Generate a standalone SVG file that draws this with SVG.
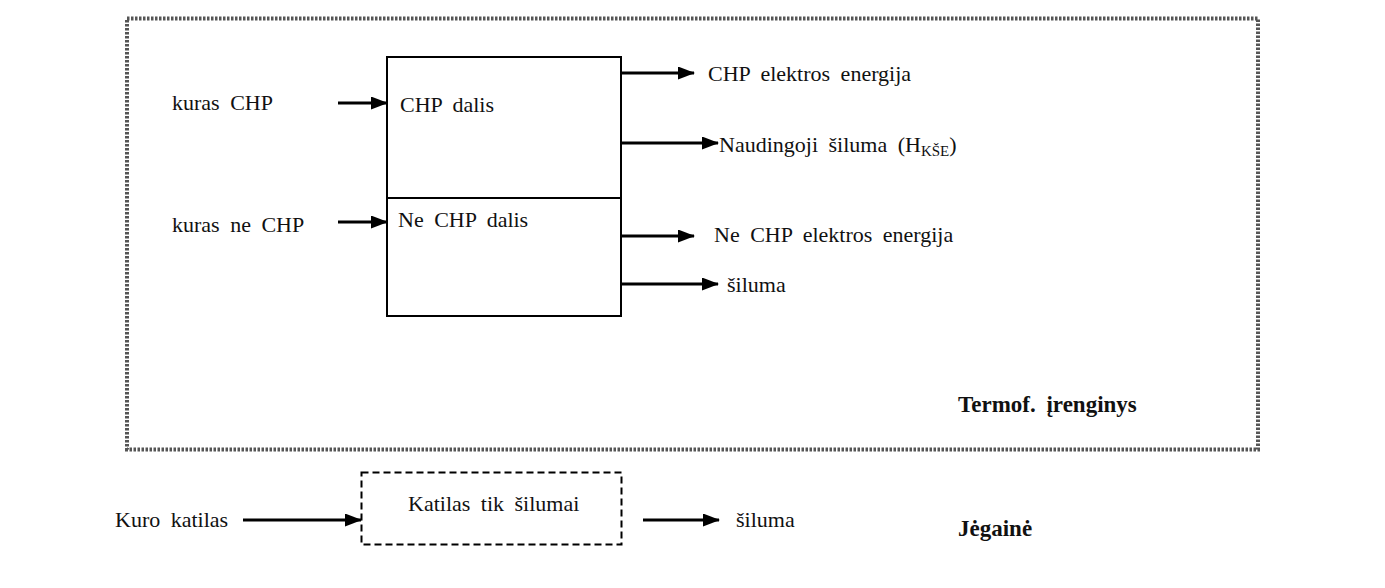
<svg xmlns="http://www.w3.org/2000/svg" width="1385" height="588" viewBox="0 0 1385 588">
<defs>
<marker id="ahb" markerWidth="17" markerHeight="13" refX="16" refY="6.5" orient="auto" markerUnits="userSpaceOnUse" viewBox="0 0 17 13"><path d="M0,0 L17,6.5 L0,13 z" fill="#000"/></marker>
</defs>
<style>
text{font-family:"Liberation Serif","Times New Roman",serif;font-size:22px;fill:#111;word-spacing:5px}
.b{font-weight:bold;font-size:23px}
.c{stroke:#000;stroke-width:3;fill:none;marker-end:url(#ahb)}
.box{fill:#fff;stroke:#000;stroke-width:2}
</style>
<rect width="1385" height="588" fill="#fff"/>
<g id="frame">
<rect x="127" y="18.5" width="1131" height="431" fill="none" stroke="#555" stroke-width="4" stroke-dasharray="2.5 1.5"/>
<text x="958" y="412" class="b">Termof. įrenginys</text>
</g>
<g id="chp-unit">
<rect class="box" x="387" y="57" width="234" height="259"/>
<line x1="387" y1="198" x2="621" y2="198" stroke="#000" stroke-width="2"/>
<text x="400" y="112">CHP dalis</text>
<text x="398" y="227">Ne CHP dalis</text>
</g>
<g id="boiler">
<rect x="361.5" y="472.5" width="260" height="72" fill="none" stroke="#000" stroke-width="2" stroke-dasharray="7 4"/>
<text x="408" y="511">Katilas tik šilumai</text>
</g>
<g id="labels">
<text x="172" y="110">kuras CHP</text>
<text x="172" y="232">kuras ne CHP</text>
<text x="708" y="81">CHP elektros energija</text>
<text x="719" y="152">Naudingoji šiluma (H<tspan font-size="15" dy="4" word-spacing="0">KŠE</tspan><tspan dy="-4">)</tspan></text>
<text x="714" y="242">Ne CHP elektros energija</text>
<text x="727" y="292">šiluma</text>
<text x="115" y="527">Kuro katilas</text>
<text x="736" y="527">šiluma</text>
<text x="958" y="536" class="b">Jėgainė</text>
</g>
<g id="connectors">
<line class="c" x1="338" y1="103" x2="387" y2="103"/>
<line class="c" x1="338" y1="222" x2="387" y2="222"/>
<line class="c" x1="621" y1="73" x2="694" y2="73"/>
<line class="c" x1="621" y1="143" x2="718" y2="143"/>
<line class="c" x1="621" y1="236" x2="694" y2="236"/>
<line class="c" x1="621" y1="284" x2="718" y2="284"/>
<line class="c" x1="243" y1="520" x2="361" y2="520"/>
<line class="c" x1="643" y1="520" x2="719" y2="520"/>
</g>
</svg>
